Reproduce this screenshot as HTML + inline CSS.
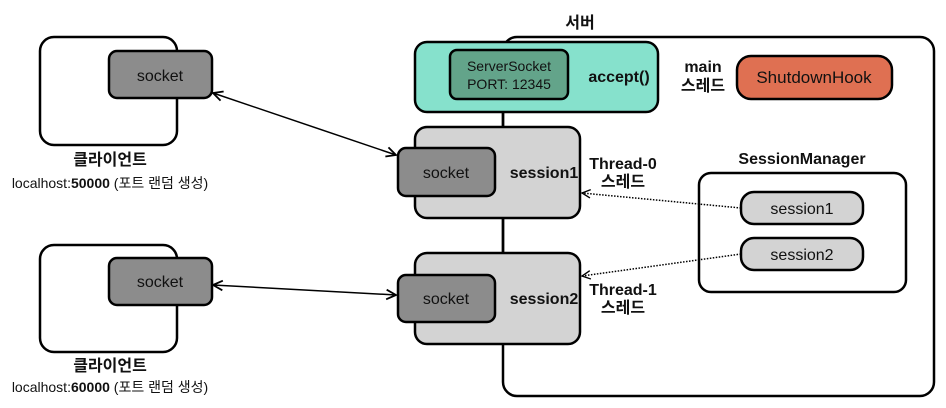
<!DOCTYPE html>
<html><head><meta charset="utf-8"><style>
html,body{margin:0;padding:0;background:#fff;}
svg{display:block;font-family:"Liberation Sans","Noto Sans CJK KR",sans-serif;}
</style></head><body>
<svg width="946" height="408" viewBox="0 0 946 408" xmlns="http://www.w3.org/2000/svg">
<defs>
<marker id="a" viewBox="0 0 10 10" refX="9" refY="5" markerWidth="8" markerHeight="8" orient="auto-start-reverse"><path d="M1,1 L9,5 L1,9" fill="none" stroke="#000" stroke-width="1.5"/></marker>
<marker id="d" viewBox="0 0 10 10" refX="9" refY="5" markerWidth="7" markerHeight="7" orient="auto"><path d="M1,1 L9,5 L1,9" fill="none" stroke="#000" stroke-width="1.3"/></marker>
</defs>
<g stroke="#000" stroke-width="2.5">
<rect x="503" y="37" width="431" height="359" rx="14" fill="#fff"/>
<rect x="40" y="37" width="137" height="108" rx="14" fill="#fff"/>
<rect x="109" y="51" width="103" height="47" rx="8" fill="#8c8c8c"/>
<rect x="40" y="245" width="137" height="107" rx="14" fill="#fff"/>
<rect x="109" y="258" width="103" height="47" rx="8" fill="#8c8c8c"/>
<rect x="415" y="42" width="243" height="70" rx="12" fill="#86e1cc"/>
<rect x="450" y="50" width="118" height="49" rx="7" fill="#63a48a"/>
<rect x="737" y="56" width="155" height="43" rx="14" fill="#df7052"/>
<rect x="415" y="127" width="165" height="91" rx="12" fill="#d3d3d3"/>
<rect x="398" y="148" width="97" height="48" rx="8" fill="#8c8c8c"/>
<rect x="415" y="253" width="165" height="91" rx="12" fill="#d3d3d3"/>
<rect x="398" y="275" width="97" height="47" rx="8" fill="#8c8c8c"/>
<rect x="699" y="173" width="207" height="119" rx="12" fill="#fff"/>
<rect x="741" y="192" width="122" height="32" rx="13" fill="#d3d3d3"/>
<rect x="741" y="238" width="122" height="32" rx="13" fill="#d3d3d3"/>
</g>
<g stroke="#000" stroke-width="2.5">
<line x1="503" y1="112" x2="503" y2="127"/>
<line x1="503" y1="218" x2="503" y2="253"/>
</g>
<g stroke="#000" stroke-width="1.5" fill="none">
<line x1="213" y1="93" x2="396" y2="155" marker-start="url(#a)" marker-end="url(#a)"/>
<line x1="213" y1="285" x2="396" y2="295" marker-start="url(#a)" marker-end="url(#a)"/>
<line x1="741" y1="208" x2="582" y2="193" stroke-dasharray="1.5 1.5" marker-end="url(#d)"/>
<line x1="741" y1="254" x2="582" y2="276" stroke-dasharray="1.5 1.5" marker-end="url(#d)"/>
</g>
<g font-size="16" text-anchor="middle" fill="#111">
<text x="160" y="81">socket</text>
<text x="160" y="287">socket</text>
<text x="446" y="178">socket</text>
<text x="446" y="304">socket</text>
<text x="509" y="71" font-size="14">ServerSocket</text>
<text x="509" y="89" font-size="14">PORT: 12345</text>
<text x="814" y="83" font-size="17">ShutdownHook</text>
<text x="802" y="214">session1</text>
<text x="802" y="260">session2</text>
</g>
<g font-size="16" font-weight="bold" text-anchor="middle" fill="#111">
<text x="580" y="28">서버</text>
<text x="619" y="82">accept()</text>
<text x="703" y="72">main</text>
<text x="703" y="91">스레드</text>
<text x="544" y="178">session1</text>
<text x="544" y="304">session2</text>
<text x="623" y="169">Thread-0</text>
<text x="623" y="187">스레드</text>
<text x="623" y="295">Thread-1</text>
<text x="623" y="313">스레드</text>
<text x="802" y="164">SessionManager</text>
<text x="110" y="165">클라이언트</text>
<text x="110" y="371">클라이언트</text>
</g>
<g font-size="14" text-anchor="middle" fill="#111">
<text x="110" y="188">localhost:<tspan font-weight="bold">50000</tspan> (포트 랜덤 생성)</text>
<text x="110" y="392">localhost:<tspan font-weight="bold">60000</tspan> (포트 랜덤 생성)</text>
</g>
</svg>
</body></html>
